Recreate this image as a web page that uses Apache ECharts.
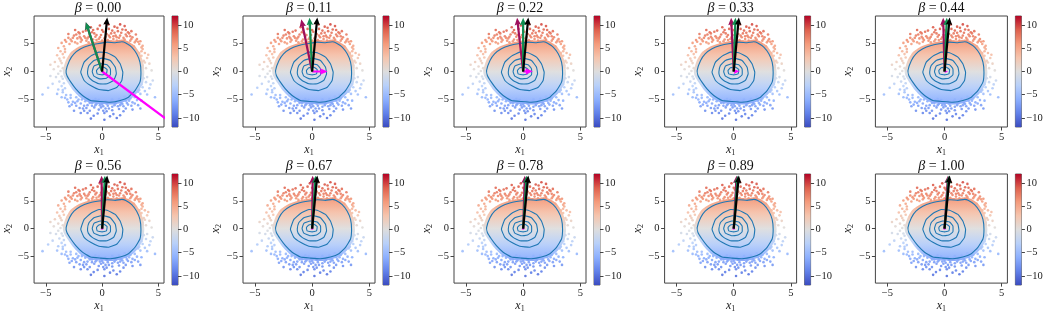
<!DOCTYPE html>
<html><head><meta charset="utf-8">
<script src="https://cdn.jsdelivr.net/npm/echarts@6/dist/echarts.min.js"></script>
<style>html,body{margin:0;padding:0;background:#fff}#c{width:1047px;height:314px}</style>
</head><body><div id="c"></div>
<script>
// ---------------- data ----------------
const betaLabels = ['0.00','0.11','0.22','0.33','0.44','0.56','0.67','0.78','0.89','1.00'];
const xTicks = [-5, 0, 5];
const yTicks = [-5, 0, 5];
const cbTicks = [-10, -5, 0, 5, 10];

// arrow tips (start at origin)
const blackTips   = [[0.45,9.65],[0.45,9.65],[0.45,9.65],[0.45,9.65],[0.45,9.65],[0.45,9.65],[0.45,9.65],[0.45,9.65],[0.45,9.65],[0.45,9.65]];
const greenTips   = [[-1.45,8.8],[-0.23,9.6],[0.0,9.6],[0.15,9.6],[0.2,9.6],[0.25,9.6],[0.3,9.6],[0.3,9.6],[0.35,9.6],[0.38,9.6]];
const maroonTips  = [[-1.45,8.8],[-0.95,9.3],[-0.53,9.6],[-0.23,9.6],[-0.12,9.6],[-0.05,9.6],[0.05,9.6],[0.15,9.6],[0.25,9.6],[0.3,9.6]];
const magentaTips = [[7.2,-10.7],[1.35,0.0],[0.85,0.05],[0.5,0.05],[0.3,0.0],[0.15,0.0],[0.1,0.0],[0.06,0.0],[0.04,0.0],[0.02,0.0]];

// density contours (same in every panel)
const ring1 = [[-3.2,0.18],[-2.9,1.96],[-2.5,3.15],[-1.9,4.05],[-1.17,4.64],[-0.44,4.94],[0.44,5.24],[1.17,5.12],[1.75,5.3],[2.1,5.1],[2.63,4.35],[3.07,3.15],[3.36,1.67],[3.45,-0.12],[3.36,-1.9],[2.92,-3.4],[2.34,-4.58],[1.6,-5.18],[0.73,-5.48],[-0.15,-5.36],[-1.02,-5.18],[-1.75,-4.29],[-2.34,-3.1],[-2.78,-1.9],[-3.13,-0.71]];
const ring2 = [[-1.9,-0.12],[-1.6,1.67],[-1.02,2.74],[-0.29,3.45],[0.44,3.33],[1.17,2.56],[1.6,1.37],[1.84,-0.12],[1.75,-1.6],[1.32,-2.8],[0.58,-3.4],[-0.29,-3.2],[-1.02,-2.5],[-1.6,-1.6]];
const ring3 = [[-1.3,-0.1],[-1.17,1.07],[-0.73,1.96],[0.0,2.38],[0.73,1.96],[1.17,0.77],[1.26,-0.42],[1.02,-1.6],[0.44,-2.2],[-0.29,-2.2],[-0.88,-1.6],[-1.23,-0.83]];
const ring4 = [[-0.88,0.0],[-0.73,0.95],[-0.15,1.37],[0.44,1.19],[0.73,0.48],[0.73,-0.6],[0.38,-1.19],[-0.2,-1.31],[-0.73,-0.83]];
const ring5 = [[-0.5,0.18],[-0.29,0.65],[0.15,0.77],[0.44,0.36],[0.38,-0.42],[0.0,-0.6],[-0.44,-0.42]];

// edge of the dense (solid-looking) part of the point cloud
const coreEdge = [[-3.5,0.2],[-3.2,2.1],[-2.8,3.4],[-2.1,4.4],[-1.3,5.0],[-0.5,5.35],[0.45,5.6],[1.2,5.5],[1.8,5.7],[2.3,5.4],[2.9,4.6],[3.35,3.3],[3.65,1.7],[3.75,-0.1],[3.65,-2.0],[3.2,-3.6],[2.55,-4.9],[1.7,-5.6],[0.75,-5.9],[-0.15,-5.8],[-1.1,-5.6],[-1.95,-4.65],[-2.6,-3.3],[-3.05,-2.0],[-3.42,-0.75]];

// individual points outside the dense core
const haloPoints = [
[-3.6,5.1],[-3.3,5.6],[-3.0,6.0],[-2.7,5.4],[-2.5,6.4],[-2.2,5.9],[-2.0,6.8],[-1.8,5.6],[-1.6,6.3],[-1.45,7.3],[-1.3,5.9],[-1.1,6.6],[-0.9,7.0],[-0.8,5.7],[-0.6,6.2],[-0.4,7.6],[-0.3,5.8],[-0.1,6.5],[0.1,7.1],[0.2,5.9],[0.4,6.7],[0.55,8.4],[0.7,6.1],[0.9,7.3],[1.0,5.8],[1.2,6.4],[1.35,7.8],[1.5,6.0],[1.7,6.9],[1.8,7.5],[2.0,5.7],[2.2,6.3],[2.3,7.0],[2.5,5.5],[2.7,6.1],[2.9,5.2],[3.1,5.8],[3.3,4.9],[3.4,5.4],[3.6,4.6],
[-2.9,4.9],[-2.4,5.2],[-1.9,5.3],[-1.4,5.5],[-0.9,5.4],[-0.5,5.6],[0.0,5.5],[0.5,5.6],[1.3,5.5],[1.9,5.2],[2.4,4.8],[2.8,4.5],[-2.2,5.0],[0.8,5.3],[-1.2,5.2],
[-2.4,7.4],[-1.0,7.9],[0.3,8.6],[1.1,8.0],[2.0,8.1],[-0.2,8.2],[2.6,7.2],[-3.0,6.7],[3.0,6.6],[1.6,8.4],
[-2.6,6.0],[-2.0,6.2],[-1.5,6.0],[-0.7,6.8],[-0.2,6.1],[0.6,6.4],[1.1,6.9],[1.6,6.4],[2.1,6.6],[2.6,5.8],[-3.2,5.3],[3.2,5.3],[-1.7,7.1],[0.0,7.4],[1.4,7.2],[2.4,6.8],
[-2.8,5.7],[-2.3,6.6],[-1.9,5.9],[-1.2,6.2],[-0.5,6.5],[0.3,6.2],[0.8,6.8],[1.3,6.1],[1.9,6.0],[2.5,6.3],[3.0,5.5],[-3.4,4.5],[3.5,4.3],[-0.8,7.4],[2.1,7.4],[0.6,7.6],[-2.1,7.0],[1.0,6.3],
[-3.9,4.2],[-3.7,3.6],[-4.0,2.9],[-3.5,3.1],[-3.8,2.3],[-4.2,1.7],[-3.6,1.5],[-3.9,0.9],[-4.3,0.4],[-3.5,0.6],[-4.6,1.2],[-3.4,2.5],[-3.3,4.0],
[3.6,4.0],[3.8,3.3],[3.5,2.8],[4.0,2.4],[3.7,1.9],[4.2,1.4],[3.6,1.1],[3.9,0.6],[4.4,0.2],[3.5,0.3],[3.5,3.6],[4.1,3.0],
[-3.9,-0.4],[-4.1,-1.0],[-3.5,-1.3],[-3.8,-1.8],[-4.4,-2.2],[-3.6,-2.6],[-3.3,-3.0],[-3.9,-3.2],[-3.5,-3.7],[-4.0,-4.0],[-3.2,-4.2],[-4.6,-0.8],[-5.3,-4.1],[-4.8,-2.9],
[3.6,-0.5],[4.0,-1.0],[3.5,-1.4],[3.9,-1.9],[4.3,-2.3],[3.6,-2.8],[3.3,-3.3],[3.8,-3.5],[3.4,-4.0],[4.0,-4.1],[4.7,-4.6],[4.5,-1.6],[4.2,-3.0],
[-3.7,0.1],[-3.6,-0.9],[-3.4,-2.1],[3.6,0.8],[3.7,-1.2],[3.5,-2.3],[-3.7,1.9],[3.8,1.6],[-3.3,3.5],[3.3,3.3],[-3.5,-3.3],[3.2,-3.6],
[-3.6,-4.6],[-3.1,-5.0],[-2.8,-4.7],[-2.6,-5.4],[-2.3,-6.1],[-2.1,-5.0],[-1.9,-5.7],[-1.7,-6.6],[-1.5,-5.3],[-1.3,-6.0],[-1.1,-7.0],[-0.9,-5.6],[-0.7,-6.4],[-0.75,-7.9],[-0.5,-5.8],[-0.3,-6.8],[-0.1,-5.5],[0.1,-6.2],[0.2,-7.4],[0.4,-5.7],[0.6,-6.6],[0.8,-5.4],[1.0,-7.6],[1.1,-6.0],[1.3,-5.3],[1.5,-6.7],[1.7,-5.6],[1.9,-6.2],[2.1,-5.2],[2.3,-5.9],[2.5,-4.8],[2.7,-5.5],[2.9,-4.6],[3.1,-5.1],[3.2,-6.0],[-2.9,-6.2],[-1.0,-8.4],[0.2,-8.6],[1.6,-7.8],[-1.9,-7.4],[2.7,-6.8],[-0.4,-7.5],[0.7,-8.0],[3.4,-6.6],[-2.5,-7.0],[1.3,-8.3],
[-2.8,-4.2],[-2.3,-4.6],[-1.8,-5.0],[-1.3,-4.9],[-0.8,-5.2],[-0.3,-5.1],[0.3,-5.3],[0.9,-5.0],[1.5,-4.9],[2.0,-4.5],[2.4,-4.2],[2.9,-3.9],[-0.6,-4.9],
[-2.4,-5.6],[-1.6,-6.1],[-1.1,-5.6],[-0.6,-6.0],[0.0,-5.9],[0.5,-6.1],[1.2,-5.7],[1.8,-5.8],[2.4,-5.2],[-3.0,-5.5],[-2.0,-6.5],[0.9,-6.9],[2.1,-6.6],[-1.3,-7.4],[0.4,-7.1],[-0.1,-6.4],[1.4,-6.2],[2.9,-5.7],
[-2.7,-5.9],[-2.2,-5.3],[-1.4,-6.5],[-0.9,-6.1],[-0.2,-6.0],[0.3,-6.6],[0.9,-6.3],[1.6,-6.0],[2.2,-5.6],[2.6,-6.1],[3.5,-5.2],[-3.3,-4.7],[0.1,-7.0],[-1.6,-7.0],[1.9,-7.1]
];

// ---------------- styling / layout ----------------
const SERIF = "'Liberation Serif','DejaVu Serif',serif";
const plotLefts = [32, 243, 454, 664.6, 875.4];
const rowTops = [16, 174];
const PW = 132, PH = 111, CBW = 6, CBOFF = 140;
const XMIN = -6.05, XMAX = 5.5, YMIN = -9.9, YMAX = 9.9;
const CMIN = -12, CMAX = 12, COLOR_GAIN = 1.15;

const CWSTOPS = [[59,76,192],[98,130,234],[141,176,254],[184,208,249],[221,221,221],[245,196,173],[244,154,123],[222,96,77],[180,4,38]];
function cw(t){
  t = Math.max(0, Math.min(1, t));
  const s = t * 8, k = Math.min(7, Math.floor(s)), f = s - k;
  const a = CWSTOPS[k], b = CWSTOPS[k+1];
  return 'rgb(' + [0,1,2].map(j => Math.round(a[j] + (b[j]-a[j])*f)).join(',') + ')';
}
function colorOfY(y){ return cw((y*COLOR_GAIN - CMIN)/(CMAX - CMIN)); }
function minus(v){ return v < 0 ? '\u2212' + Math.abs(v) : String(v); }

const rings = [ring1, ring2, ring3, ring4, ring5];
const arrowColors = ['#ff00ff', '#9e0f5c', '#0f8f50', '#000000'];

function arrowShape(p0, p1, w, hl, hw){
  const dx = p1[0]-p0[0], dy = p1[1]-p0[1];
  let L = Math.sqrt(dx*dx + dy*dy);
  if (L < 2.2) return null;
  if (L < hl) { const s = L/hl; w *= s; hl *= s; hw *= s; }
  const ux = dx/L, uy = dy/L, vx = -uy, vy = ux;
  const loc = [[0,-w/2],[L-hl*0.9,-w/2],[L-hl,-hw/2],[L,0],[L-hl,hw/2],[L-hl*0.9,w/2],[0,w/2]];
  return loc.map(([a,b]) => [p0[0]+ux*a+vx*b, p0[1]+uy*a+vy*b]);
}

const grids = [], xAxes = [], yAxes = [], series = [], graphics = [];
for (let i = 0; i < 10; i++){
  const r = Math.floor(i/5), c = i % 5;
  const L = plotLefts[c], T = rowTops[r];
  grids.push({left: L, top: T, width: PW, height: PH, show: true, borderColor: '#444', borderWidth: 1, containLabel: false});
  grids.push({left: L + CBOFF, top: T, width: CBW, height: PH, show: true, borderColor: '#444', borderWidth: 0.8, containLabel: false});
  const gp = 2*i, gc = 2*i+1;
  const labelStyle = {fontFamily: SERIF, fontSize: 10.5, color: '#222'};
  const nameStyle = {fontFamily: SERIF, color: '#222', rich: {i: {fontFamily: SERIF, fontStyle: 'italic', fontSize: 12, color: '#222'}, s: {fontFamily: SERIF, fontSize: 8, color: '#222', padding: [6,0,0,0]}}};
  xAxes.push({gridIndex: gp, type: 'value', min: XMIN, max: XMAX, position: 'bottom',
    axisLine: {show: false, onZero: false}, splitLine: {show: false},
    axisTick: {show: true, length: 3.5, lineStyle: {color: '#444'}, customValues: xTicks},
    axisLabel: Object.assign({margin: 5, customValues: xTicks, formatter: minus}, labelStyle),
    name: '{i|x}{s|1}', nameLocation: 'middle', nameGap: 15, nameTextStyle: nameStyle
  });
  yAxes.push({gridIndex: gp, type: 'value', min: YMIN, max: YMAX, position: 'left',
    axisLine: {show: false, onZero: false}, splitLine: {show: false},
    axisTick: {show: true, length: 3.5, lineStyle: {color: '#444'}, customValues: yTicks},
    axisLabel: Object.assign({margin: 5, customValues: yTicks, formatter: minus}, labelStyle),
    name: '{i|x}{s|2}', nameLocation: 'middle', nameGap: 19, nameRotate: 90, nameTextStyle: nameStyle
  });
  xAxes.push({gridIndex: gc, type: 'value', min: 0, max: 1, show: false});
  yAxes.push({gridIndex: gc, type: 'value', min: CMIN, max: CMAX, position: 'right',
    axisLine: {show: false, onZero: false}, splitLine: {show: false},
    axisTick: {show: true, length: 3.5, lineStyle: {color: '#444'}, customValues: cbTicks},
    axisLabel: Object.assign({margin: 5, customValues: cbTicks, formatter: minus}, labelStyle)
  });

  // dense core
  series.push({type: 'custom', xAxisIndex: gp, yAxisIndex: gp, silent: true, z: 1,
    data: [[0,0]], encode: {x: 0, y: 1},
    renderItem: function(params, api){
      const pts = coreEdge.map(p => api.coord(p));
      const yTop = api.coord([0, 6])[1], yBot = api.coord([0, -6])[1];
      const stops = [];
      for (let k = 0; k <= 12; k++){ const yv = 6 - 12*k/12; stops.push({offset: k/12, color: colorOfY(yv)}); }
      return {type: 'polygon', shape: {points: pts, smooth: 0.15},
        style: {fill: new echarts.graphic.LinearGradient(0, yTop, 0, yBot, stops, true), opacity: 0.93}};
    }});
  // individual points
  series.push({type: 'scatter', xAxisIndex: gp, yAxisIndex: gp, silent: true, z: 2,
    data: haloPoints, symbol: 'circle', symbolSize: 2.6,
    itemStyle: {color: p => colorOfY(p.value[1]), opacity: 0.9}});
  // contours
  series.push({type: 'custom', xAxisIndex: gp, yAxisIndex: gp, silent: true, z: 3,
    data: rings.map((rg, k) => [0, 0, k]), encode: {x: 0, y: 1},
    renderItem: function(params, api){
      const rg = rings[api.value(2)];
      return {type: 'polygon', shape: {points: rg.map(p => api.coord(p)), smooth: 0.12},
        style: {fill: 'none', stroke: '#1f77b4', lineWidth: 1.1}};
    }});
  // arrows
  const arrowData = [
    [0, 0, magentaTips[i][0], magentaTips[i][1], 0],
    [0, 0, maroonTips[i][0], maroonTips[i][1], 1],
    [0, 0, greenTips[i][0], greenTips[i][1], 2],
    [0, 0, blackTips[i][0], blackTips[i][1], 3]
  ];
  series.push({type: 'custom', xAxisIndex: gp, yAxisIndex: gp, silent: true, z: 4, clip: true,
    data: arrowData, encode: {x: [0, 2], y: [1, 3]},
    renderItem: function(params, api){
      const p0 = api.coord([api.value(0), api.value(1)]);
      const p1 = api.coord([api.value(2), api.value(3)]);
      const col = arrowColors[api.value(4)];
      const pts = arrowShape(p0, p1, 2.2, 7.5, 6.5);
      if (!pts) return {type: 'circle', shape: {cx: p0[0], cy: p0[1], r: 1.3}, style: {fill: col}};
      return {type: 'polygon', shape: {points: pts}, style: {fill: col}};
    }});
  // colorbar
  series.push({type: 'custom', xAxisIndex: gc, yAxisIndex: gc, silent: true, z: 1,
    data: [[0, 0]], encode: {x: 0, y: 1},
    renderItem: function(params, api){
      const a = api.coord([0, CMAX]), b = api.coord([1, CMIN]);
      const stops = [];
      for (let k = 0; k <= 16; k++) stops.push({offset: k/16, color: cw(1 - k/16)});
      return {type: 'rect', shape: {x: a[0], y: a[1], width: b[0]-a[0], height: b[1]-a[1]},
        style: {fill: new echarts.graphic.LinearGradient(0, 0, 0, 1, stops)}};
    }});
  // title
  graphics.push({type: 'text', x: L + PW/2, y: T - 8, z: 10,
    style: {text: '{b|\u03b2} = ' + betaLabels[i], align: 'center', verticalAlign: 'middle',
      fontFamily: SERIF, fontSize: 14, fill: '#111',
      rich: {b: {fontFamily: SERIF, fontStyle: 'italic', fontSize: 14, fill: '#111'}}}});
}

const chart = echarts.init(document.getElementById('c'), null, {renderer: 'canvas'});
chart.setOption({
  animation: false,
  backgroundColor: '#fff',
  grid: grids, xAxis: xAxes, yAxis: yAxes, series: series, graphic: graphics
});
</script>
</body></html>
